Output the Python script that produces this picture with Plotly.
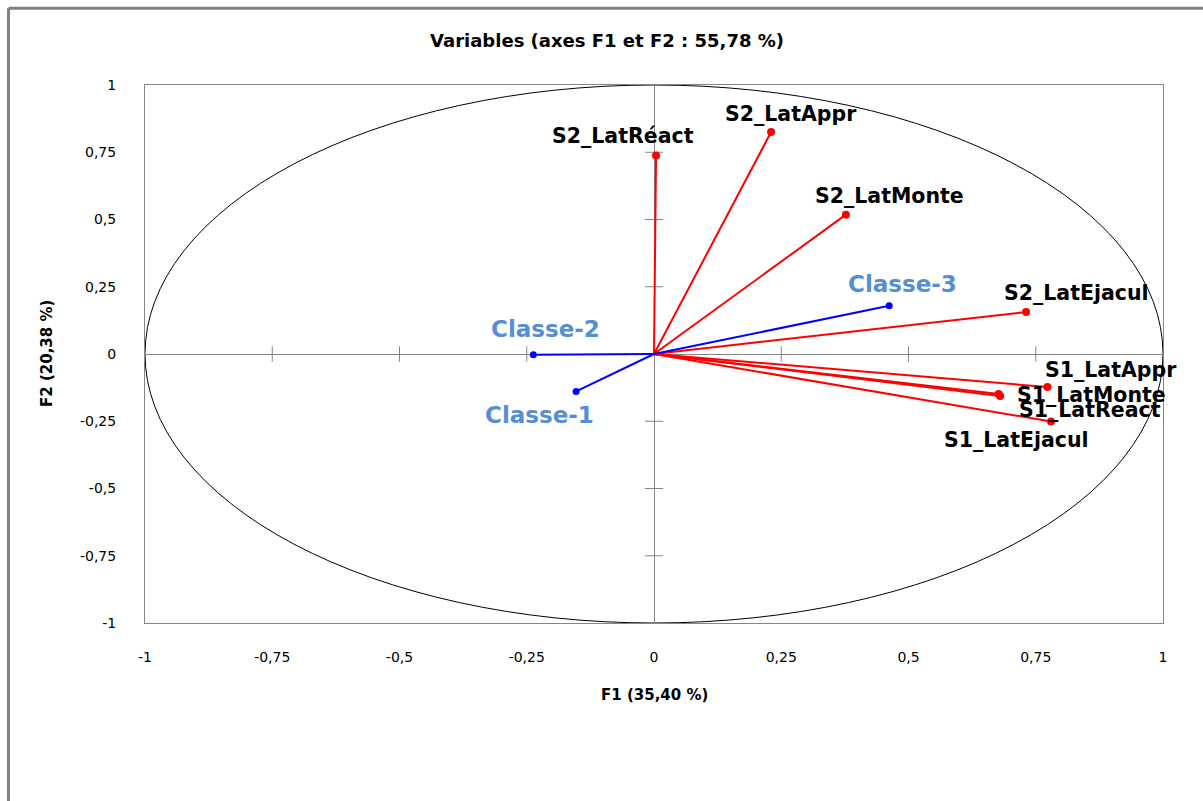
import plotly.graph_objects as go

# Correlation circle: coordinates of the active variables on F1 / F2
var_names = ["S1_LatReact", "S1_LatAppr", "S1_LatMonte", "S1_LatEjacul",
             "S2_LatRéact", "S2_LatAppr", "S2_LatMonte", "S2_LatEjacul"]
var_f1 = [0.680, 0.773, 0.677, 0.780, 0.004, 0.230, 0.377, 0.731]
var_f2 = [-0.156, -0.123, -0.149, -0.251, 0.738, 0.825, 0.518, 0.156]

# Supplementary variables (classes)
cls_names = ["Classe-1", "Classe-2", "Classe-3"]
cls_f1 = [-0.153, -0.237, 0.462]
cls_f2 = [-0.139, -0.003, 0.179]

tick_vals = [-1, -0.75, -0.5, -0.25, 0, 0.25, 0.5, 0.75, 1]
tick_text = ["-1", "-0,75", "-0,5", "-0,25", "0", "0,25", "0,5", "0,75", "1"]

title_text = "Variables (axes F1 et F2 : 55,78 %)"
x_title = "F1 (35,40 %)"
y_title = "F2 (20,38 %)"

# label placement (pixel offsets from each point)
var_label_shift = {
    "S1_LatReact": (90, -14), "S1_LatAppr": (64, 17), "S1_LatMonte": (93, -1),
    "S1_LatEjacul": (-35, -18), "S2_LatRéact": (-33, 19), "S2_LatAppr": (20, 18),
    "S2_LatMonte": (44, 19), "S2_LatEjacul": (50, 19),
}
cls_label_shift = {"Classe-1": (-37, -24), "Classe-2": (12, 26), "Classe-3": (13, 22)}

RED = "#ff0000"
BLUE = "#0000ff"
LIGHT_BLUE = "#558ed5"
GRAY = "#868686"
FONT = "DejaVu Sans"


def spokes(xs, ys):
    lx, ly = [], []
    for x, y in zip(xs, ys):
        lx += [0, x, None]
        ly += [0, y, None]
    return lx, ly


fig = go.Figure()

# small cross ticks along the two zero axes
inner = [v for v in tick_vals if v not in (-1, 0, 1)]
fig.add_trace(go.Scatter(
    x=inner, y=[0] * len(inner), mode="markers", hoverinfo="skip",
    marker=dict(symbol="line-ns-open", size=11, color=GRAY, line=dict(color=GRAY, width=1)),
))
fig.add_trace(go.Scatter(
    x=[0] * len(inner), y=inner, mode="markers", hoverinfo="skip",
    marker=dict(symbol="line-ew-open", size=13, color=GRAY, line=dict(color=GRAY, width=1)),
))

vx, vy = spokes(var_f1, var_f2)
fig.add_trace(go.Scatter(x=vx, y=vy, mode="lines", line=dict(color=RED, width=2),
                         hoverinfo="skip"))
fig.add_trace(go.Scatter(x=var_f1, y=var_f2, mode="markers", text=var_names,
                         marker=dict(color=RED, size=8)))

cx, cy = spokes(cls_f1, cls_f2)
fig.add_trace(go.Scatter(x=cx, y=cy, mode="lines", line=dict(color=BLUE, width=2),
                         hoverinfo="skip"))
fig.add_trace(go.Scatter(x=cls_f1, y=cls_f2, mode="markers", text=cls_names,
                         marker=dict(color=BLUE, size=7)))

# unit circle
fig.add_shape(type="circle", xref="x", yref="y", x0=-1, y0=-1, x1=1, y1=1,
              line=dict(color="#000000", width=1), layer="below")

# outer chart frame (left and top edges)
fig.add_shape(type="line", xref="paper", yref="paper", x0=-0.1341, x1=-0.1341,
              y0=-0.5, y1=1.1428, line=dict(color="#808080", width=3))
fig.add_shape(type="line", xref="paper", yref="paper", x0=-0.1341, x1=1.5,
              y0=1.1428, y1=1.1428, line=dict(color="#808080", width=3))

annotations = []
for n, x, y in zip(var_names, var_f1, var_f2):
    dx, dy = var_label_shift[n]
    annotations.append(dict(x=x, y=y, xref="x", yref="y", text=n, showarrow=False,
                            xshift=dx, yshift=dy, xanchor="center", yanchor="middle",
                            font=dict(family=FONT, size=20.5, color="#000000",
                                      weight="bold")))
for n, x, y in zip(cls_names, cls_f1, cls_f2):
    dx, dy = cls_label_shift[n]
    annotations.append(dict(x=x, y=y, xref="x", yref="y", text=n, showarrow=False,
                            xshift=dx, yshift=dy, xanchor="center", yanchor="middle",
                            font=dict(family=FONT, size=23, color=LIGHT_BLUE,
                                      weight="bold")))
annotations.append(dict(x=0.5, y=0, xref="paper", yref="paper", text=x_title,
                        showarrow=False, yshift=-72, xanchor="center", yanchor="middle",
                        font=dict(family=FONT, size=15, color="#000000",
                                  weight="bold")))
annotations.append(dict(x=0, y=0.5, xref="paper", yref="paper", text=y_title,
                        showarrow=False, xshift=-98, textangle=-90, xanchor="center",
                        yanchor="middle",
                        font=dict(family=FONT, size=15, color="#000000",
                                  weight="bold")))

axis_common = dict(
    range=[-1, 1], tickvals=tick_vals, ticktext=tick_text, ticks="",
    showgrid=False, zeroline=True, zerolinecolor=GRAY, zerolinewidth=1,
    showline=True, mirror=True, linecolor=GRAY, linewidth=1,
    tickfont=dict(family=FONT, size=14, color="#000000"),
    fixedrange=True,
)

fig.update_layout(
    width=1203, height=801,
    margin=dict(l=145, r=40, t=85, b=178),
    paper_bgcolor="#ffffff", plot_bgcolor="#ffffff",
    showlegend=False,
    title=dict(text=title_text, x=0.5046, y=0.9488, xanchor="center", yanchor="middle",
               xref="container", yref="container",
               font=dict(family=FONT, size=18, color="#000000", weight="bold")),
    xaxis=dict(axis_common, ticklabelstandoff=21),
    yaxis=dict(axis_common, ticklabelstandoff=25),
    annotations=annotations,
)

fig.write_html("out.html")
